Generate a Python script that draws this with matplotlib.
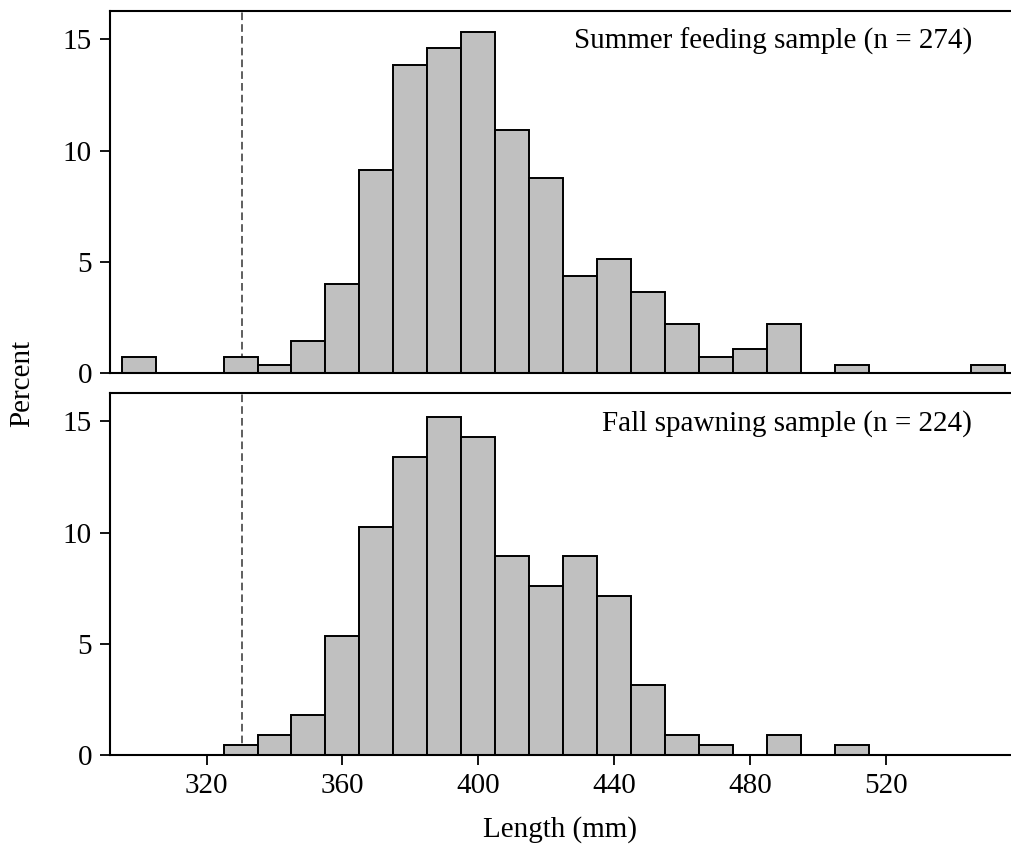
import numpy as np
import matplotlib
matplotlib.use("Agg")
import matplotlib.pyplot as plt

plt.rcParams['font.family'] = ['Liberation Serif', 'DejaVu Serif']

# bin centres (10 mm bins) and counts
bin_centers = [300, 310, 320, 330, 340, 350, 360, 370, 380, 390, 400, 410, 420,
               430, 440, 450, 460, 470, 480, 490, 500, 510, 520, 530, 540, 550]
summer_counts = [2, 0, 0, 2, 1, 4, 11, 25, 38, 40, 42, 30, 24,
                 12, 14, 10, 6, 2, 3, 6, 0, 1, 0, 0, 0, 1]
fall_counts = [0, 0, 0, 1, 2, 4, 12, 23, 30, 34, 32, 20, 17,
               20, 16, 7, 2, 1, 0, 2, 0, 1, 0, 0, 0, 0]
summer_n = 274
fall_n = 224
summer_label = "Summer feeding sample (n = 274)"
fall_label = "Fall spawning sample (n = 224)"
cutoff = 330.5
x_ticks = [320, 360, 400, 440, 480, 520]
y_ticks = [0, 5, 10, 15]


def draw_panel(ax, counts, n, label):
    pct = np.array(counts) / n * 100
    ax.axvline(cutoff, color="#333333", linestyle=(0, (5, 2.7)), linewidth=1.1, zorder=1)
    ax.bar(bin_centers, pct, width=10, color="#c0c0c0", edgecolor="black",
           linewidth=1.4, zorder=2)
    ax.set_xlim(291.6, 556.7)
    ax.set_ylim(0, 16.28)
    ax.set_yticks(y_ticks)
    ax.text(0.957, 14.6, label, transform=ax.get_yaxis_transform(),
            ha="right", va="baseline", fontsize=21)
    ax.spines["right"].set_visible(False)
    for s in ["left", "top", "bottom"]:
        ax.spines[s].set_linewidth(1.5)
    ax.tick_params(axis="both", direction="out", length=7, width=1.3,
                   labelsize=21, pad=6)


fig = plt.figure(figsize=(10.11, 8.46), dpi=100)
ax1 = fig.add_axes([0.1088, 0.5591, 0.8912, 0.4279])
ax2 = fig.add_axes([0.1088, 0.1076, 0.8912, 0.4279])

draw_panel(ax1, summer_counts, summer_n, summer_label)
draw_panel(ax2, fall_counts, fall_n, fall_label)

ax1.set_xticks([])
ax2.set_xticks(x_ticks)
ax2.set_xlabel("Length (mm)", fontsize=21, labelpad=12)

fig.text(0.022, 0.547, "Percent", rotation=90, ha="center", va="center", fontsize=21)

fig.savefig("out.png", dpi=100)
